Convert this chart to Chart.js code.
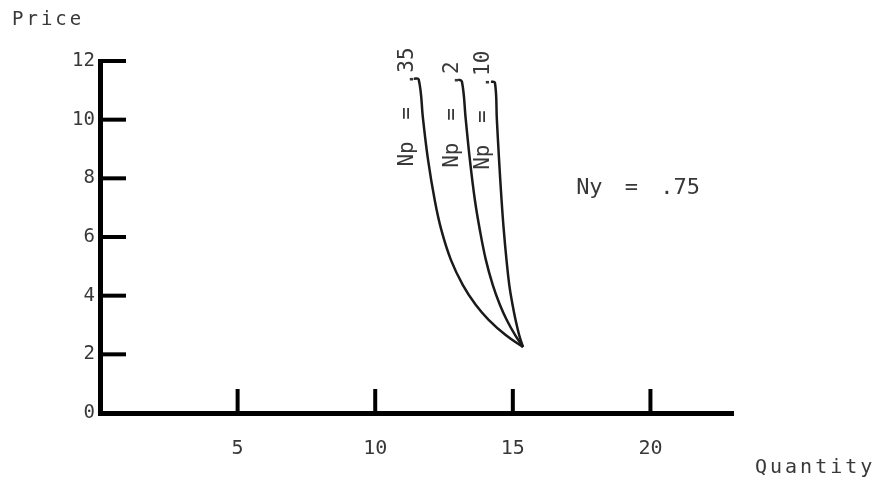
<!DOCTYPE html>
<html>
<head>
<meta charset="utf-8">
<script src="https://cdn.jsdelivr.net/npm/chart.js@4.4.1/dist/chart.umd.min.js"></script>
<style>
  html, body { margin: 0; padding: 0; background: #fff; }
  #wrap { width: 884px; height: 488px; }
</style>
</head>
<body>
<div id="wrap"><canvas id="chart"></canvas></div>
<script>
// tick labels
var xTicks = [5, 10, 15, 20];
var yTicks = [0, 2, 4, 6, 8, 10, 12];

// demand curves (quantity, price), top to bottom
var np35Qty = [11.40, 11.58, 11.74, 11.92, 12.16, 12.40, 12.75, 13.18, 13.65, 14.13, 14.74, 15.37];
var np35Price = [11.40, 11.37, 10.00, 8.63, 7.27, 6.25, 5.22, 4.37, 3.69, 3.17, 2.66, 2.25];

var np2Qty = [13.01, 13.15, 13.29, 13.44, 13.62, 13.80, 14.02, 14.27, 14.53, 14.78, 15.08, 15.37];
var np2Price = [11.37, 11.30, 10.00, 8.63, 7.27, 6.25, 5.22, 4.37, 3.69, 3.17, 2.66, 2.25];

var np10Qty = [14.21, 14.35, 14.42, 14.50, 14.59, 14.67, 14.77, 14.87, 14.99, 15.10, 15.23, 15.37];
var np10Price = [11.30, 11.26, 10.00, 8.63, 7.27, 6.25, 5.22, 4.37, 3.69, 3.17, 2.66, 2.25];

var curveNames = ['Np = .35', 'Np = .2', 'Np = .10'];

function pts(xs, ys) {
	return xs.map(function(x, i) { return { x: x, y: ys[i] }; });
}

function line(label, data) {
	return {
		label: label,
		data: data,
		showLine: true,
		borderColor: '#1a1a1a',
		borderWidth: 2.5,
		pointRadius: 0,
		tension: 0.4,
		fill: false,
	};
}

// labels next to the curves, anchored in data units
var notes = [
	{ text: curveNames[0], x: 11.18, y: 8.40, rot: true, size: 21 },
	{ text: curveNames[1], x: 12.82, y: 8.36, rot: true, size: 21 },
	{ text: curveNames[2], x: 13.95, y: 8.29, rot: true, size: 21 },
	{ text: 'Ny = .75', x: 17.30, y: 7.65, rot: false, size: 22 },
];

var inkColor = '#383838';
var mono = '"DejaVu Sans Mono"';

var extras = {
	id: 'extras',
	afterDraw: function(chart) {
		var ctx = chart.ctx;
		var xs = chart.scales.x, ys = chart.scales.y;
		var left = chart.chartArea.left, bottom = chart.chartArea.bottom;
		ctx.save();
		// inward tick marks
		ctx.strokeStyle = '#000';
		ctx.lineWidth = 4;
		yTicks.forEach(function(v) {
			if (v === 0) return;
			var py = ys.getPixelForValue(v);
			ctx.beginPath();
			ctx.moveTo(left, py);
			ctx.lineTo(left + 26, py);
			ctx.stroke();
		});
		xTicks.forEach(function(v) {
			var px = xs.getPixelForValue(v);
			ctx.beginPath();
			ctx.moveTo(px, bottom);
			ctx.lineTo(px, bottom - 24);
			ctx.stroke();
		});

		ctx.fillStyle = inkColor;
		ctx.textBaseline = 'middle';
		ctx.textAlign = 'left';
		notes.forEach(function(n) {
			var px = xs.getPixelForValue(n.x), py = ys.getPixelForValue(n.y);
			ctx.save();
			ctx.font = n.size + 'px ' + mono;
			ctx.wordSpacing = '9px';
			ctx.translate(px, py);
			if (n.rot) ctx.rotate(-Math.PI / 2);
			ctx.fillText(n.text, 0, 0);
			ctx.restore();
		});

		// axis names
		ctx.font = '19px ' + mono;
		ctx.letterSpacing = '3px';
		ctx.fillText('Price', 12, 20);
		ctx.font = '20px ' + mono;
		ctx.letterSpacing = '3px';
		ctx.fillText('Quantity', 755, 468);
		ctx.restore();
	}
};

new Chart(document.getElementById('chart'), {
	type: 'scatter',
	data: {
		datasets: [
			line(curveNames[0], pts(np35Qty, np35Price)),
			line(curveNames[1], pts(np2Qty, np2Price)),
			line(curveNames[2], pts(np10Qty, np10Price)),
		],
	},
	options: {
		responsive: true,
		maintainAspectRatio: false,
		animation: false,
		layout: { padding: { top: 61, right: 151, left: 0, bottom: 0 } },
		plugins: { legend: { display: false }, tooltip: { enabled: false } },
		scales: {
			x: {
				type: 'linear',
				min: 0,
				max: 23,
				afterFit: function(s) { s.height = 75; },
				afterBuildTicks: function(s) { s.ticks = xTicks.map(function(v) { return { value: v }; }); },
				grid: { display: false, drawTicks: false },
				border: { display: true, color: '#000', width: 5 },
				ticks: { color: inkColor, font: { family: 'DejaVu Sans Mono', size: 20 }, padding: 24 },
			},
			y: {
				type: 'linear',
				min: 0,
				max: 12,
				afterFit: function(s) { s.width = 100; },
				afterBuildTicks: function(s) { s.ticks = yTicks.map(function(v) { return { value: v }; }); },
				grid: { display: false, drawTicks: false },
				border: { display: true, color: '#000', width: 5 },
				ticks: { color: inkColor, font: { family: 'DejaVu Sans Mono', size: 19 }, padding: 5 },
			},
		},
	},
	plugins: [extras],
});
</script>
</body>
</html>
